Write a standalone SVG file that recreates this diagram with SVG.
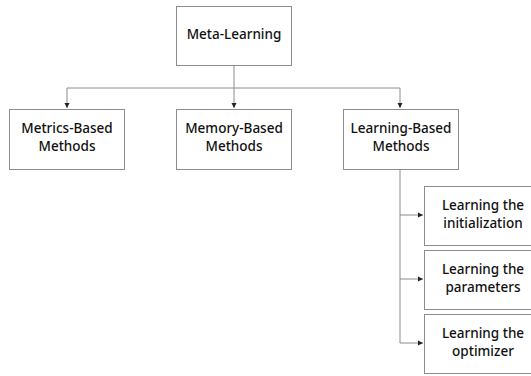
<svg xmlns="http://www.w3.org/2000/svg" width="531" height="376" viewBox="0 0 531 376">
<defs>
<marker id="arr" markerWidth="6" markerHeight="6" refX="5" refY="3" orient="auto" markerUnits="userSpaceOnUse">
<path d="M0,0.5 L5,3 L0,5.5 Z" fill="#222"/>
</marker>
<style>
.box{fill:#fff;stroke:#8c8c8c;stroke-width:1}
.lbl{font-family:"Noto Sans","Liberation Sans",sans-serif;font-size:13.5px;font-weight:500;fill:#111;text-anchor:middle}
.con{fill:none;stroke:#8c8c8c;stroke-width:1}
</style>
</defs>
<rect width="531" height="376" fill="#fff"/>
<g id="connectors">
<path class="con" d="M234,65 V88 M67,88 H400"/>
<path class="con" d="M67,88 V108" marker-end="url(#arr)"/>
<path class="con" d="M234,88 V108" marker-end="url(#arr)"/>
<path class="con" d="M400,88 V108" marker-end="url(#arr)"/>
<path class="con" d="M400,169 V343"/>
<path class="con" d="M400,215 H423" marker-end="url(#arr)"/>
<path class="con" d="M400,279 H423" marker-end="url(#arr)"/>
<path class="con" d="M400,343 H423" marker-end="url(#arr)"/>
</g>
<g id="meta">
<rect class="box" x="176.5" y="6.5" width="115" height="59"/>
<text class="lbl" x="234" y="39">Meta-Learning</text>
</g>
<g id="metrics">
<rect class="box" x="9.5" y="109.5" width="115" height="60"/>
<text class="lbl" x="67" y="133">Metrics-Based</text>
<text class="lbl" x="67" y="151">Methods</text>
</g>
<g id="memory">
<rect class="box" x="176.5" y="109.5" width="115" height="60"/>
<text class="lbl" x="234" y="133">Memory-Based</text>
<text class="lbl" x="234" y="151">Methods</text>
</g>
<g id="learning">
<rect class="box" x="343.5" y="109.5" width="115" height="60"/>
<text class="lbl" x="401" y="133">Learning-Based</text>
<text class="lbl" x="401" y="151">Methods</text>
</g>
<g id="init">
<rect class="box" x="424.5" y="186.5" width="115" height="59"/>
<text class="lbl" x="483" y="210">Learning the</text>
<text class="lbl" x="483" y="228">initialization</text>
</g>
<g id="params">
<rect class="box" x="424.5" y="250.5" width="115" height="59"/>
<text class="lbl" x="483" y="274">Learning the</text>
<text class="lbl" x="483" y="292">parameters</text>
</g>
<g id="optim">
<rect class="box" x="424.5" y="314.5" width="115" height="59"/>
<text class="lbl" x="483" y="338">Learning the</text>
<text class="lbl" x="483" y="356">optimizer</text>
</g>
</svg>
